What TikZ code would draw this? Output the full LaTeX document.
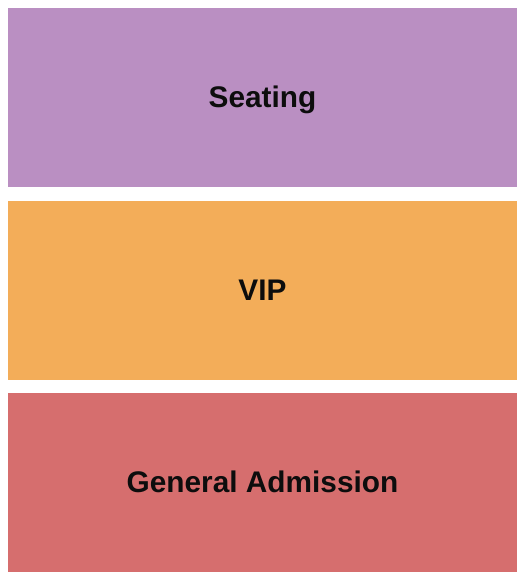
\documentclass[tikz,border=0pt]{standalone}
\usepackage{fontspec}
\setmainfont{Liberation Sans}
\definecolor{seatcol}{RGB}{186,143,194}
\definecolor{vipcol}{RGB}{243,173,89}
\definecolor{gacol}{RGB}{214,110,110}
\tikzset{
  zone/.style={fill=#1, draw=none},
  zonelabel/.style={anchor=base, font=\fontsize{29.8}{32}\selectfont\bfseries, text=black!95, inner sep=0pt}
}
\begin{document}
\begin{tikzpicture}[x=1pt,y=1pt]
\useasboundingbox[fill=white] (0,0) rectangle (525,580);
\fill[zone=seatcol] (8,572) rectangle (517,393);
\fill[zone=vipcol] (8,379) rectangle (517,200);
\fill[zone=gacol] (8,187) rectangle (517,8);
\node[zonelabel] (seating) at (262.5,472.5) {Seating};
\node[zonelabel] (vip) at (262.5,279.5) {VIP};
\node[zonelabel] (ga) at (262.5,87) {General Admission};
\end{tikzpicture}
\end{document}
